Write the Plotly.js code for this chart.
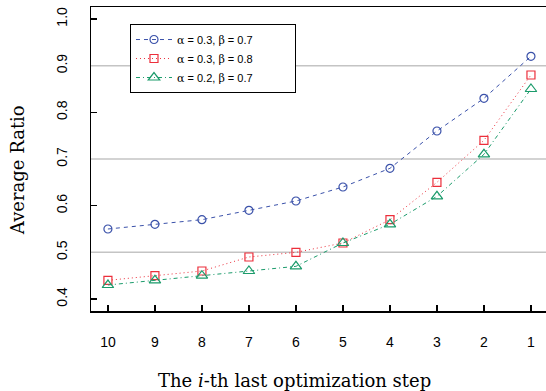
<!DOCTYPE html>
<html><head><meta charset="utf-8">
<script src="https://cdn.plot.ly/plotly-3.0.1.min.js"></script>
<style>html,body{margin:0;padding:0;background:#fff}</style>
</head><body>
<div id="chart" style="width:546px;height:391px"></div>
<script>
const steps = ['10','9','8','7','6','5','4','3','2','1'];
const seriesA = [0.55,0.56,0.57,0.59,0.61,0.64,0.68,0.76,0.83,0.92]; // α=0.3, β=0.7
const seriesB = [0.44,0.45,0.46,0.49,0.50,0.52,0.57,0.65,0.74,0.88]; // α=0.3, β=0.8
const seriesC = [0.43,0.44,0.45,0.46,0.47,0.52,0.56,0.62,0.71,0.85]; // α=0.2, β=0.7
const yLabelVals = [0.4,0.5,0.6,0.7,0.8,0.9,1.0];
const yLabelText = ['0.4','0.5','0.6','0.7','0.8','0.9','1.0'];
const yTickVals = [0.4,0.6,0.8,1.0];
const gridVals = [0.5,0.7,0.9];
const names = ['α = 0.3, β = 0.7','α = 0.3, β = 0.8','α = 0.2, β = 0.7'];

const pad = '&nbsp;'.repeat(12);
const greek = s => s.replace(/([αβ])/g,'<span style="font-family:DejaVu Serif">$1</span>') + pad;
const mk = (y,name,color,dash,symbol,size) => ({
  x: steps, y: y, name: greek(name), type:'scatter', mode:'lines+markers',
  line:{color:color,width:1,dash:dash},
  marker:{symbol:symbol,size:size,color:color,line:{color:color,width:1.2}}
});
const traces = [
  mk(seriesA,names[0],'#3b52aa','4px,4px','circle-open',8),
  mk(seriesB,names[1],'#ec2f3b','1px,3px','square-open',8),
  mk(seriesC,names[2],'#1b9b6b','4px,3px,1px,3px','triangle-up-open',10)
];
traces.push({x:steps,y:seriesA,yaxis:'y2',type:'scatter',mode:'none',showlegend:false,hoverinfo:'skip'});

const layout = {
  width:546, height:391,
  margin:{l:91,r:0,t:7,b:80},
  paper_bgcolor:'#fff', plot_bgcolor:'#fff',
  font:{family:'Liberation Sans, Arial, sans-serif',color:'#000'},
  xaxis:{type:'category',categoryorder:'array',categoryarray:steps,
    range:[-0.36,9.32],showgrid:false,zeroline:false,
    showline:true,linecolor:'#000',linewidth:1.5,mirror:true,
    ticks:'inside',ticklen:6,tickwidth:1.2,tickcolor:'#000',
    tickfont:{size:14,family:'Liberation Sans, Arial, sans-serif'},ticklabelstandoff:18},
  yaxis:{range:[0.3743,1.0257],tickvals:yLabelVals,ticktext:yLabelText,
    tickangle:-90,ticks:'',showgrid:false,zeroline:false,
    showline:true,linecolor:'#000',linewidth:1.5,
    tickfont:{size:14,family:'Liberation Sans, Arial, sans-serif'},ticklabelstandoff:17},
  yaxis2:{overlaying:'y',range:[0.3743,1.0257],tickvals:yTickVals,showticklabels:false,
    ticks:'inside',ticklen:6,tickwidth:1.2,tickcolor:'#000',side:'left',
    showgrid:false,zeroline:false,showline:false},
  shapes: gridVals.map(v=>({type:'line',xref:'paper',yref:'y',x0:0,x1:1,y0:v,y1:v,
    layer:'below',line:{color:'#c4c4c4',width:1.5}})),
  legend:{x:0.0857,y:0.944,xanchor:'left',yanchor:'top',bgcolor:'#fff',
    bordercolor:'#000',borderwidth:1,font:{size:11},tracegroupgap:0,itemwidth:36},
  annotations:[
    {text:'The <i>i</i>-th last optimization step',xref:'paper',yref:'paper',
     x:0.448,y:-0.23,xanchor:'center',yanchor:'middle',showarrow:false,
     font:{family:'DejaVu Serif',size:18}},
    {text:'Average Ratio',xref:'paper',yref:'paper',textangle:-90,
     x:-0.16,y:0.464,xanchor:'center',yanchor:'middle',showarrow:false,
     font:{family:'DejaVu Serif',size:18}}
  ],
  showlegend:true
};
Plotly.newPlot('chart',traces,layout,{displayModeBar:false,staticPlot:true});
</script>
</body></html>
